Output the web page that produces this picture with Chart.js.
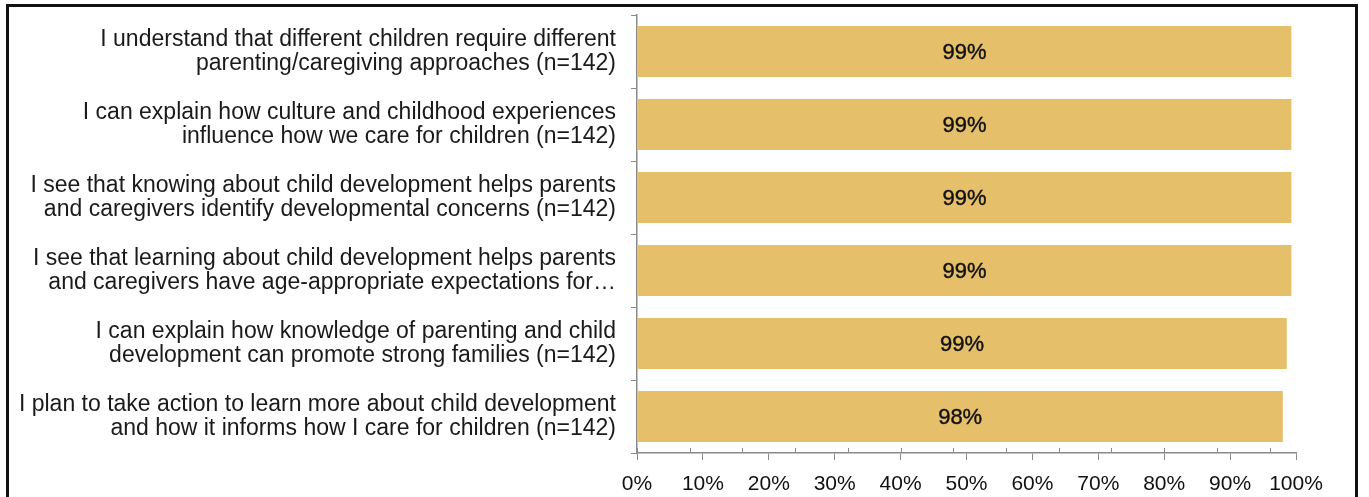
<!DOCTYPE html>
<html lang="en">
<head>
    <meta charset="UTF-8">
    <title>Parenting knowledge survey</title>
    <script src="https://cdn.jsdelivr.net/npm/chart.js@4.4.1/dist/chart.umd.min.js"></script>
    <style>
        body { margin: 0; background: #fff; overflow: hidden; }
        #wrap { position: relative; width: 1369px; height: 497px; }
        #frame { position: absolute; left: 6px; top: 4px; width: 1352px; height: 600px;
                 border: 3px solid #111; box-sizing: border-box; pointer-events: none; }
        canvas { position: absolute; left: 0; top: 0; }
    </style>
</head>
<body>
<div id="wrap">
    <canvas id="myChart" width="1369" height="497"></canvas>
    <div id="frame"></div>
</div>

<script>
    // statements, already split in two lines like the original
    var categories = [
        ["I understand that different children require different", "parenting/caregiving approaches (n=142)"],
        ["I can explain how culture and childhood experiences", "influence how we care for children (n=142)"],
        ["I see that knowing about child development helps parents", "and caregivers identify developmental concerns (n=142)"],
        ["I see that learning about child development helps parents", "and caregivers have age-appropriate expectations for\u2026"],
        ["I can explain how knowledge of parenting and child", "development can promote strong families (n=142)"],
        ["I plan to take action to learn more about child development", "and how it informs how I care for children (n=142)"]
    ];
    var values = [99.3, 99.3, 99.3, 99.3, 98.6, 98.0];
    var valueLabels = ["99%", "99%", "99%", "99%", "99%", "98%"];
    var xTicks = [0, 10, 20, 30, 40, 50, 60, 70, 80, 90, 100];
    var minorTicks = [0, 8, 16, 24, 32, 40, 48, 56, 64, 72, 80, 88, 96];

    var axisGray = '#8a8a8a';

    // labels in the middle of each bar
    var barLabels = {
        id: 'barLabels',
        afterDatasetsDraw: function (chart) {
            var ctx = chart.ctx;
            var meta = chart.getDatasetMeta(0);
            ctx.save();
            ctx.fillStyle = '#111';
            ctx.strokeStyle = '#111';
            ctx.lineWidth = 0.4;
            ctx.font = '22px "Liberation Sans"';
            ctx.textAlign = 'center';
            ctx.textBaseline = 'middle';
            meta.data.forEach(function (bar, i) {
                var cx = (bar.base + bar.x) / 2;
                ctx.fillText(valueLabels[i], cx, bar.y + 1);
                ctx.strokeText(valueLabels[i], cx, bar.y + 1);
            });
            ctx.restore();
        }
    };

    // small upward ticks on the x axis
    var minorTickMarks = {
        id: 'minorTickMarks',
        afterDraw: function (chart) {
            var ctx = chart.ctx;
            var sx = chart.scales.x;
            var y = chart.chartArea.bottom;
            ctx.save();
            ctx.strokeStyle = axisGray;
            ctx.lineWidth = 1;
            minorTicks.forEach(function (v) {
                var px = Math.round(sx.getPixelForValue(v)) + 0.5;
                ctx.beginPath();
                ctx.moveTo(px, y - 5);
                ctx.lineTo(px, y);
                ctx.stroke();
            });
            ctx.restore();
        }
    };

    var ctx = document.getElementById("myChart");

    var chart = new Chart(ctx, {
        type: 'bar',
        data: {
            labels: categories,
            datasets: [{
                data: values,
                backgroundColor: '#E5BF6A',
                borderWidth: 0,
                barPercentage: 0.7,
                categoryPercentage: 1.0
            }]
        },
        options: {
            indexAxis: 'y',
            responsive: false,
            animation: false,
            layout: { padding: { left: 0, right: 73, top: 15, bottom: 0 } },
            plugins: {
                legend: { display: false },
                tooltip: { enabled: false }
            },
            scales: {
                x: {
                    min: 0,
                    max: 100,
                    afterBuildTicks: function (scale) {
                        scale.ticks = xTicks.map(function (v) { return { value: v }; });
                    },
                    afterFit: function (scale) {
                        scale.height = 44;
                        scale.paddingLeft = 0;
                        scale.paddingRight = 0;
                    },
                    grid: { drawOnChartArea: false, color: axisGray, tickLength: 7 },
                    border: { color: axisGray, width: 1.5 },
                    ticks: {
                        padding: 12,
                        color: '#111',
                        font: { family: 'Liberation Sans', size: 21 },
                        maxRotation: 0,
                        callback: function (v) { return v + '%'; }
                    }
                },
                y: {
                    afterFit: function (scale) {
                        scale.width = 637;
                        scale.paddingTop = 0;
                        scale.paddingBottom = 0;
                    },
                    grid: { drawOnChartArea: false, color: axisGray, tickLength: 6, offset: true },
                    border: { color: axisGray, width: 1.5 },
                    ticks: {
                        padding: 15,
                        color: '#1a1a1a',
                        font: { family: 'Liberation Sans', size: 23, lineHeight: 1.05 }
                    }
                }
            }
        },
        plugins: [barLabels, minorTickMarks]
    });
</script>
</body>
</html>
